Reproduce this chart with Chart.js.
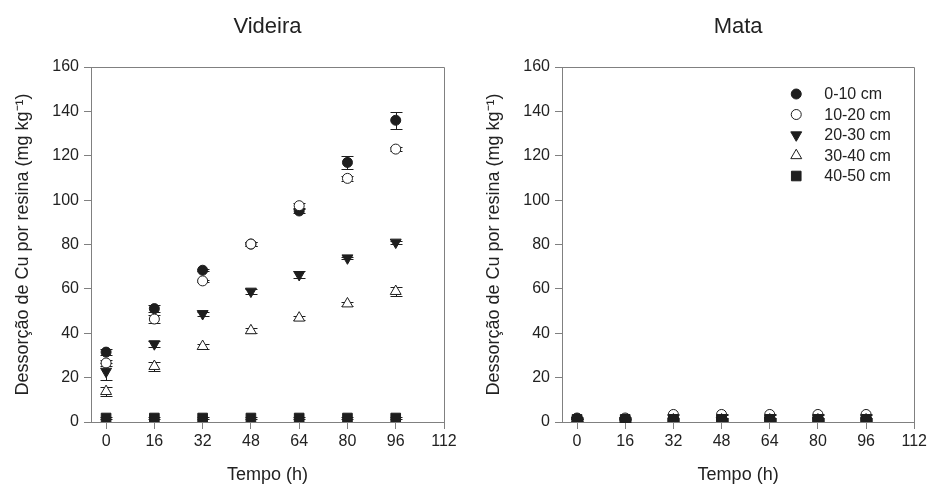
<!DOCTYPE html>
<html>
<head>
<meta charset="utf-8">
<script src="https://cdn.jsdelivr.net/npm/chart.js@4.4.0/dist/chart.umd.min.js"></script>
<style>
  html, body { margin: 0; padding: 0; background: #fff; overflow: hidden; }
  #wrap { position: relative; width: 930px; height: 493px; }
  .panel { position: absolute; top: 0; width: 465px; height: 493px; }
</style>
</head>
<body>
<div id="wrap">
  <div class="panel" style="left:0"><canvas id="videira" width="465" height="493"></canvas></div>
  <div class="panel" style="left:465px"><canvas id="mata" width="465" height="493"></canvas></div>
</div>
<script>
// tempo de incubação (h)
const horas = [0, 16, 32, 48, 64, 80, 96];
const xTicks = [0, 16, 32, 48, 64, 80, 96, 112];
const yTicks = [0, 20, 40, 60, 80, 100, 120, 140, 160];
const camadas = ["0-10 cm", "10-20 cm", "20-30 cm", "30-40 cm", "40-50 cm"];

// Videira
const videira0_10 = [31.5, 51.1, 68.4, 80.2, 95.1, 117.0, 136.0];
const videira10_20 = [26.6, 46.4, 63.6, 80.2, 97.5, 109.8, 123.0];
const videira20_30 = [22.8, 35.2, 48.8, 58.9, 66.4, 73.9, 81.0];
const videira30_40 = [13.8, 25.1, 34.1, 41.2, 46.9, 53.3, 58.9];
const videira40_50 = [1.8, 1.8, 1.8, 1.8, 1.8, 1.8, 1.8];

const errVideira0_10 = [1.3, 1.5, 0.5, 0.8, 0.8, 3.0, 3.9];
const errVideira10_20 = [1.5, 2.0, 0.5, 1.0, 1.0, 1.0, 0.8];
const errVideira20_30 = [4.0, 1.5, 1.0, 1.0, 1.5, 0.5, 0.8];
const errVideira30_40 = [2.0, 2.0, 1.2, 1.0, 0.8, 1.0, 2.0];
const errVideira40_50 = [0.3, 0.3, 0.3, 0.3, 0.3, 0.3, 0.3];

// Mata
const mata0_10 = [1.8, 1.6, 1.4, 1.4, 1.4, 1.4, 1.4];
const mata10_20 = [1.6, 1.8, 3.4, 3.4, 3.4, 3.4, 3.4];
const mata20_30 = [0.8, 0.6, 0.8, 0.8, 0.8, 0.8, 0.8];
const mata30_40 = [1.0, 0.9, 1.0, 1.0, 1.0, 1.0, 1.0];
const mata40_50 = [1.2, 1.2, 1.2, 1.2, 1.2, 1.2, 1.2];

const errMata = [0.4, 0.4, 0.4, 0.4, 0.4, 0.4, 0.4];

const FONTE = '"Liberation Sans", Arial, sans-serif';
const CINZA = "#808080";
const PRETO = "#1e1e1e";

Chart.defaults.font.family = FONTE;
Chart.defaults.color = "#222";

// estilo dos marcadores de cada camada
const marcadores = [
  { pointStyle: "circle", radius: 5, rotation: 0, fill: PRETO },
  { pointStyle: "circle", radius: 5, rotation: 0, fill: "#fff" },
  { pointStyle: "triangle", radius: 6.3, rotation: 180, fill: PRETO },
  { pointStyle: "triangle", radius: 6.3, rotation: 0, fill: "#fff" },
  { pointStyle: "rect", radius: 6.8, rotation: 0, fill: PRETO },
];

function montarDatasets(series, erros) {
  return series.map((vals, i) => ({
    label: camadas[i],
    data: horas.map((h, j) => ({ x: h, y: vals[j] })),
    erros: erros[i],
    pointStyle: marcadores[i].pointStyle,
    pointRadius: marcadores[i].radius,
    pointHoverRadius: marcadores[i].radius,
    pointRotation: marcadores[i].rotation,
    backgroundColor: marcadores[i].fill,
    borderColor: PRETO,
    borderWidth: 1,
    order: 5 - i,
  }));
}

// barras de erro
const barrasErro = {
  id: "barrasErro",
  beforeDatasetsDraw(chart) {
    const ctx = chart.ctx;
    const xs = chart.scales.x, ys = chart.scales.y;
    ctx.save();
    ctx.strokeStyle = PRETO;
    ctx.lineWidth = 1;
    chart.data.datasets.forEach((ds) => {
      ds.data.forEach((p, j) => {
        const e = ds.erros[j];
        if (!e) return;
        const px = Math.round(xs.getPixelForValue(p.x)) + 0.5;
        const y1 = Math.round(ys.getPixelForValue(p.y + e)) + 0.5;
        const y2 = Math.round(ys.getPixelForValue(p.y - e)) + 0.5;
        ctx.beginPath();
        ctx.moveTo(px, y1); ctx.lineTo(px, y2);
        ctx.moveTo(px - 6, y1); ctx.lineTo(px + 6, y1);
        ctx.moveTo(px - 6, y2); ctx.lineTo(px + 6, y2);
        ctx.stroke();
      });
    });
    ctx.restore();
  },
};

// moldura (topo e direita) + título do painel
const moldura = {
  id: "moldura",
  afterDraw(chart, args, opts) {
    const ctx = chart.ctx;
    const a = chart.chartArea;
    ctx.save();
    ctx.strokeStyle = CINZA;
    ctx.lineWidth = 1;
    const t = Math.round(a.top) + 0.5, r = Math.round(a.right) + 0.5;
    ctx.beginPath();
    ctx.moveTo(Math.round(a.left), t); ctx.lineTo(r, t); ctx.lineTo(r, Math.round(a.bottom) + 1);
    ctx.stroke();
    ctx.fillStyle = "#222";
    ctx.font = "22px " + FONTE;
    ctx.textAlign = "center";
    ctx.textBaseline = "alphabetic";
    ctx.fillText(opts.titulo, (a.left + a.right) / 2, a.top - 34);
    ctx.restore();
  },
};

// legenda dentro da área do gráfico
const legendaInterna = {
  id: "legendaInterna",
  afterDraw(chart, args, opts) {
    if (!opts.mostrar) return;
    const ctx = chart.ctx;
    const a = chart.chartArea;
    ctx.save();
    chart.data.datasets.forEach((ds, i) => {
      const y = a.top + 27 + i * 20.5;
      const x = a.right - 118;
      ctx.fillStyle = ds.backgroundColor;
      ctx.strokeStyle = PRETO;
      ctx.lineWidth = 1;
      Chart.helpers.drawPoint(ctx, {
        pointStyle: ds.pointStyle,
        rotation: ds.pointRotation,
        radius: ds.pointRadius,
        borderWidth: 1,
      }, x, y);
      ctx.fillStyle = "#222";
      ctx.font = "16px " + FONTE;
      ctx.textAlign = "left";
      ctx.textBaseline = "middle";
      ctx.fillText(ds.label, a.right - 90, y + 1);
    });
    ctx.restore();
  },
};

function opcoes(titulo, padEsq, padDir, legenda) {
  return {
    responsive: false,
    devicePixelRatio: 1,
    animation: false,
    layout: { padding: { top: 67, left: padEsq, right: padDir, bottom: 0 } },
    plugins: {
      legend: { display: false },
      tooltip: { enabled: false },
      moldura: { titulo: titulo },
      legendaInterna: { mostrar: legenda },
    },
    scales: {
      x: {
        type: "linear",
        min: -5,
        max: 112,
        afterBuildTicks: (s) => { s.ticks = xTicks.map((v) => ({ value: v })); },
        afterFit: (s) => { s.height = 71; },
        ticks: { font: { size: 16 }, padding: 3, maxRotation: 0, autoSkip: false },
        grid: { drawOnChartArea: false, tickLength: 7, color: CINZA },
        border: { color: CINZA, width: 1 },
        title: { display: true, text: "Tempo (h)", font: { size: 18 }, padding: { top: 8, bottom: 7 } },
      },
      y: {
        min: 0,
        max: 160,
        afterBuildTicks: (s) => { s.ticks = yTicks.map((v) => ({ value: v })); },
        afterFit: (s) => { s.width = 91; },
        ticks: { font: { size: 16 }, padding: 5 },
        grid: { drawOnChartArea: false, tickLength: 7, color: CINZA },
        border: { color: CINZA, width: 1 },
        title: {
          display: true,
          text: "Dessorção de Cu por resina (mg kg⁻¹)",
          font: { size: 18 },
          padding: { top: 12, bottom: 0 },
        },
      },
    },
  };
}

new Chart(document.getElementById("videira"), {
  type: "scatter",
  data: {
    datasets: montarDatasets(
      [videira0_10, videira10_20, videira20_30, videira30_40, videira40_50],
      [errVideira0_10, errVideira10_20, errVideira20_30, errVideira30_40, errVideira40_50]
    ),
  },
  options: opcoes("Videira", 0, 21, false),
  plugins: [barrasErro, moldura, legendaInterna],
});

new Chart(document.getElementById("mata"), {
  type: "scatter",
  data: {
    datasets: montarDatasets(
      [mata0_10, mata10_20, mata20_30, mata30_40, mata40_50],
      [errMata, errMata, errMata, errMata, errMata]
    ),
  },
  options: opcoes("Mata", 6, 15, true),
  plugins: [barrasErro, moldura, legendaInterna],
});
</script>
</body>
</html>
